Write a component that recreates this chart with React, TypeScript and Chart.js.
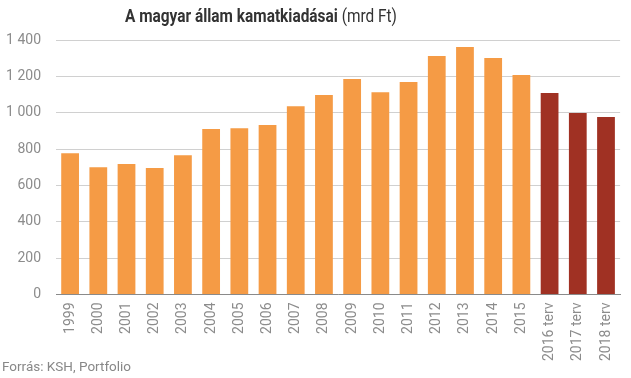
import React, { useEffect, useRef } from "react";
import { Chart, registerables } from "chart.js";

Chart.register(...registerables);

const categories = [
  "1999", "2000", "2001", "2002", "2003", "2004", "2005", "2006", "2007", "2008",
  "2009", "2010", "2011", "2012", "2013", "2014", "2015", "2016 terv", "2017 terv", "2018 terv",
];
const values = [777, 700, 717, 695, 766, 910, 915, 932, 1036, 1097, 1185, 1113, 1169, 1312, 1362, 1301, 1207, 1108, 998, 976];
const isPlan = [false, false, false, false, false, false, false, false, false, false, false, false, false, false, false, false, false, true, true, true];
const yTicks = [0, 200, 400, 600, 800, 1000, 1200, 1400];

const ORANGE = "#F59B45";
const DARKRED = "#A03123";

export default function App() {
  const ref = useRef<HTMLCanvasElement | null>(null);
  const titleRef = useRef<HTMLDivElement | null>(null);
  useEffect(() => {
    if (titleRef.current) {
      const w = titleRef.current.getBoundingClientRect().width;
      if (w > 0) titleRef.current.style.transform = `translateX(-50%) scaleX(${272 / w})`;
    }
    if (!ref.current) return;
    const chart = new Chart(ref.current, {
      type: "bar",
      data: {
        labels: categories,
        datasets: [
          {
            data: values,
            backgroundColor: isPlan.map((p) => (p ? DARKRED : ORANGE)),
            categoryPercentage: 1,
            barPercentage: 0.63,
          },
        ],
      },
      options: {
        animation: false,
        responsive: false,
        maintainAspectRatio: false,
        layout: { padding: { top: 40, right: 8, bottom: 9, left: 0 } },
        plugins: { legend: { display: false }, tooltip: { enabled: false }, title: { display: false } },
        scales: {
          x: {
            grid: { display: false, drawTicks: false },
            border: { display: true, color: "#8a8a8a", width: 1 },
            ticks: {
              color: "#8c8c8c",
              font: { family: "Roboto", size: 14 },
              minRotation: 90,
              maxRotation: 90,
              padding: 8,
              autoSkip: false,
            },
          },
          y: {
            min: 0,
            max: 1400,
            afterBuildTicks: (axis: any) => {
              axis.ticks = yTicks.map((v) => ({ value: v }));
            },
            afterFit: (axis: any) => {
              axis.width = 56;
            },
            grid: { color: "#d0d0d0", lineWidth: 1, drawTicks: false },
            border: { display: false },
            ticks: {
              color: "#8c8c8c",
              font: { family: "Roboto", size: 14 },
              padding: 15,
              callback: (v: any) => String(v).replace(/\B(?=(\d{3})+(?!\d))/g, " "),
            },
          },
        },
      },
    });
    return () => chart.destroy();
  }, []);
  return (
    <div style={{ position: "absolute", left: 0, top: 0, width: 631, height: 378, background: "#fff", fontFamily: "Roboto" }}>
      <canvas ref={ref} width={631} height={378} style={{ position: "absolute", left: 0, top: 0 }} />
      <div
        ref={titleRef}
        style={{
          position: "absolute",
          left: 261,
          top: 4,
          fontSize: 19,
          color: "#333",
          whiteSpace: "nowrap",
          transformOrigin: "center",
          transform: "translateX(-50%)",
          display: "inline-block",
        }}
      >
        <span style={{ fontWeight: 700 }}>A magyar állam kamatkiadásai</span>{" "}
        <span style={{ fontWeight: 400 }}>(mrd Ft)</span>
      </div>
      <div style={{ position: "absolute", left: 2, top: 358, fontSize: 13.5, color: "#888" }}>
        Forrás: KSH, Portfolio
      </div>
    </div>
  );
}
